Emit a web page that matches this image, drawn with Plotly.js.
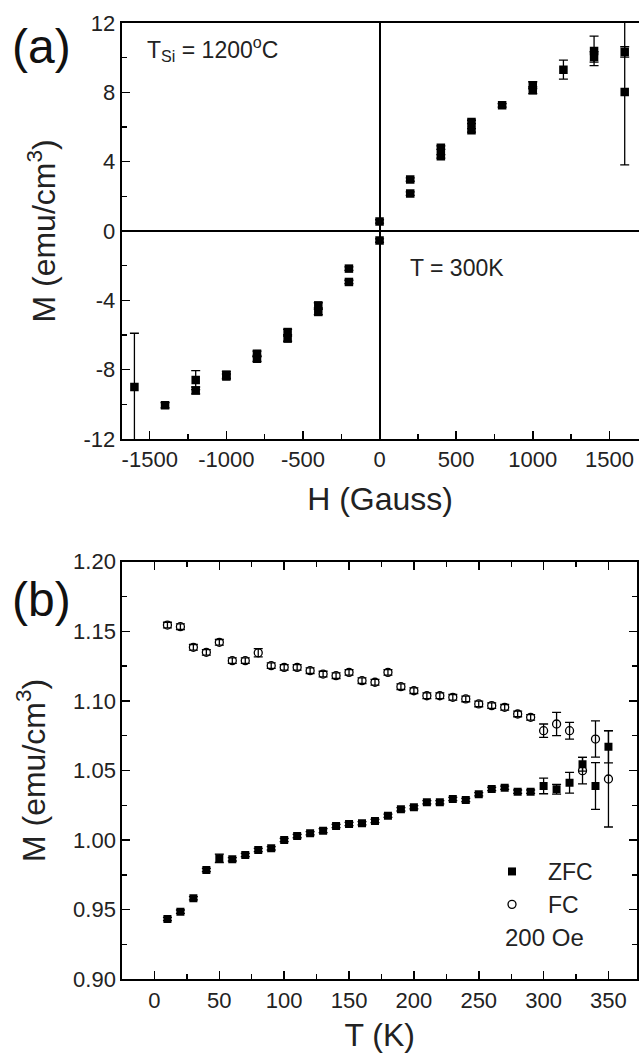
<!DOCTYPE html>
<html>
<head>
<meta charset="utf-8">
<script src="https://cdn.plot.ly/plotly-3.0.1.min.js"></script>
<style>html,body{margin:0;padding:0;background:#fff;}#chart{width:639px;height:1056px;}</style>
</head>
<body>
<div id="chart"></div>
<script>
// ---- Panel (a): hysteresis at T = 300 K ----
var hField = [-1600,-1400,-1200,-1200,-1000,-1000,-800,-800,-600,-600,-400,-400,-200,-200,0,0,200,200,400,400,600,600,800,1000,1000,1200,1400,1400,1600,1600];
var mHyst = [-9.0,-10.05,-8.6,-9.2,-8.3,-8.4,-7.08,-7.37,-5.83,-6.21,-4.29,-4.67,-2.17,-2.94,0.55,-0.55,2.97,2.16,4.81,4.31,6.29,5.81,7.25,8.41,8.12,9.31,10.39,10.04,10.33,8.02];
var mHystErr = [3.1,0.15,0.55,0.2,0.2,0.15,0.15,0.15,0.15,0.15,0.15,0.15,0.1,0.1,0.1,0.1,0.1,0.1,0.1,0.1,0.1,0.1,0.1,0.2,0.2,0.55,0.85,0.3,0.3,4.2];

// ---- Panel (b): ZFC / FC at 200 Oe ----
var tempK = [10,20,30,40,50,60,70,80,90,100,110,120,130,140,150,160,170,180,190,200,210,220,230,240,250,260,270,280,290,300,310,320,330,340,350];
var mZFC = [0.9433,0.9486,0.9582,0.9785,0.9869,0.9862,0.9893,0.9929,0.9941,1.0001,1.0029,1.0049,1.0068,1.0101,1.0116,1.0121,1.0137,1.0175,1.0221,1.0236,1.0272,1.0272,1.0295,1.0288,1.0329,1.0367,1.0376,1.0348,1.0348,1.0389,1.0365,1.0412,1.0545,1.0389,1.0671];
var mZFCErr = [0.0012,0.0012,0.0012,0.0012,0.003,0.0012,0.0012,0.0012,0.0012,0.0012,0.0012,0.0012,0.0015,0.0012,0.0012,0.0012,0.0012,0.0012,0.0012,0.0012,0.0012,0.0012,0.0012,0.0012,0.0012,0.0012,0.0012,0.0012,0.0012,0.0056,0.0035,0.0075,0.005,0.0168,0.0116];
var mFC = [1.1545,1.1533,1.1385,1.1349,1.1421,1.1289,1.1289,1.1346,1.1253,1.1241,1.1241,1.1217,1.1193,1.1181,1.1205,1.1145,1.1134,1.1205,1.1102,1.1073,1.1037,1.1037,1.1026,1.1014,1.0978,1.0966,1.0954,1.0906,1.0882,1.0786,1.0834,1.0786,1.0499,1.0726,1.0439];
var mFCErr = [0.002,0.002,0.002,0.002,0.002,0.002,0.002,0.003,0.002,0.002,0.002,0.002,0.002,0.002,0.002,0.002,0.002,0.002,0.002,0.002,0.002,0.002,0.002,0.002,0.002,0.002,0.002,0.002,0.002,0.0048,0.0084,0.006,0.0095,0.013,0.0345];

var hTicks = [-1500,-1000,-500,0,500,1000,1500];
var mTicks = [-12,-8,-4,0,4,8,12];
var tTicks = [0,50,100,150,200,250,300,350];
var zTicks = [0.90,0.95,1.00,1.05,1.10,1.15,1.20];

var W = 639, H = 1056;
function px(x){return x/W;}
function py(y){return 1 - y/H;}

var FONT = 'Liberation Sans, Arial, sans-serif';
var tickFont = {family: FONT, size: 22, color: '#222'};
var titleFont = {family: FONT, size: 32, color: '#222'};

var errStyle = function(arr){return {type:'data', array:arr, visible:true, color:'#000', thickness:1.3, width:4.5};};

var traces = [
  {x: hField, y: mHyst, type:'scatter', mode:'markers', xaxis:'x', yaxis:'y', showlegend:false,
   marker:{symbol:'square', size:8.5, color:'#000'}, error_y: errStyle(mHystErr)},
  {x: tempK, y: mZFC, type:'scatter', mode:'markers', xaxis:'x2', yaxis:'y2', name:'ZFC',
   marker:{symbol:'square', size:8, color:'#000'}, error_y: errStyle(mZFCErr)},
  {x: tempK, y: mFC, type:'scatter', mode:'markers', xaxis:'x2', yaxis:'y2', name:'FC',
   marker:{symbol:'circle-open', size:8, color:'#000', line:{width:1.3, color:'#000'}}, error_y: errStyle(mFCErr)}
];

var axisCommon = {showgrid:false, showline:true, linecolor:'#000', linewidth:2, ticks:'inside', tickcolor:'#000', tickwidth:1.5, ticklen:8, tickfont:tickFont};

var layout = {
  width: W, height: H,
  margin: {l:0, r:0, t:0, b:0},
  paper_bgcolor:'#fff', plot_bgcolor:'#fff',
  font: {family: FONT, color:'#222'},
  xaxis: Object.assign({}, axisCommon, {
    domain:[px(121.7), px(638.5)], range:[-1683, 1690], anchor:'y',
    tickvals: hTicks, ticktext: hTicks.map(String), mirror:true,
    minor:{dtick:250, tick0:0, ticks:'inside', ticklen:5, tickcolor:'#000', tickwidth:1.3},
    zeroline:true, zerolinecolor:'#000', zerolinewidth:2,
    title:{text:'H (Gauss)', font:titleFont, standoff:16}
  }),
  yaxis: Object.assign({}, axisCommon, {
    domain:[py(439), py(23)], range:[-12, 12], anchor:'x',
    tickvals: mTicks, ticktext: mTicks.map(String), mirror:true,
    minor:{dtick:2, tick0:0, ticks:'inside', ticklen:5, tickcolor:'#000', tickwidth:1.3},
    zeroline:true, zerolinecolor:'#000', zerolinewidth:2,
    title:{text:'M (emu/cm<sup>3</sup>)', font:titleFont, standoff:18}
  }),
  xaxis2: Object.assign({}, axisCommon, {
    domain:[px(122.3), px(637)], range:[-24.8, 372], anchor:'y2',
    tickvals: tTicks, ticktext: tTicks.map(String), mirror:'ticks',
    minor:{dtick:25, tick0:0, ticks:'inside', ticklen:5, tickcolor:'#000', tickwidth:1.3},
    zeroline:false,
    title:{text:'T (K)', font:titleFont, standoff:12}
  }),
  yaxis2: Object.assign({}, axisCommon, {
    domain:[py(979.3), py(561.7)], range:[0.9, 1.2], anchor:'x2',
    tickvals: zTicks, ticktext: zTicks.map(function(v){return v.toFixed(2);}), mirror:'ticks',
    minor:{dtick:0.025, tick0:0, ticks:'inside', ticklen:5, tickcolor:'#000', tickwidth:1.3},
    zeroline:false,
    title:{text:'M (emu/cm<sup>3</sup>)', font:titleFont, standoff:18}
  }),
  showlegend:true,
  legend:{x:px(476), y:py(850), xanchor:'left', yanchor:'top', bgcolor:'rgba(0,0,0,0)',
    font:{family:FONT, size:23, color:'#222'}, itemwidth:62, tracegroupgap:0},
  annotations:[
    {text:'(a)', xref:'paper', yref:'paper', x:px(10), y:py(46), xanchor:'left', yanchor:'middle', showarrow:false, font:{family:FONT, size:48, color:'#111'}},
    {text:'(b)', xref:'paper', yref:'paper', x:px(10), y:py(599), xanchor:'left', yanchor:'middle', showarrow:false, font:{family:FONT, size:48, color:'#111'}},
    {text:'T<sub>Si</sub> = 1200<sup>o</sup>C', xref:'paper', yref:'paper', x:px(145), y:py(49), xanchor:'left', yanchor:'middle', showarrow:false, font:{family:FONT, size:23, color:'#222'}},
    {text:'T = 300K', xref:'paper', yref:'paper', x:px(408), y:py(268), xanchor:'left', yanchor:'middle', showarrow:false, font:{family:FONT, size:23, color:'#222'}},
    {text:'200 Oe', xref:'paper', yref:'paper', x:px(503), y:py(937), xanchor:'left', yanchor:'middle', showarrow:false, font:{family:FONT, size:24, color:'#222'}}
  ]
};

Plotly.newPlot('chart', traces, layout, {displayModeBar:false, staticPlot:true});
</script>
</body>
</html>
